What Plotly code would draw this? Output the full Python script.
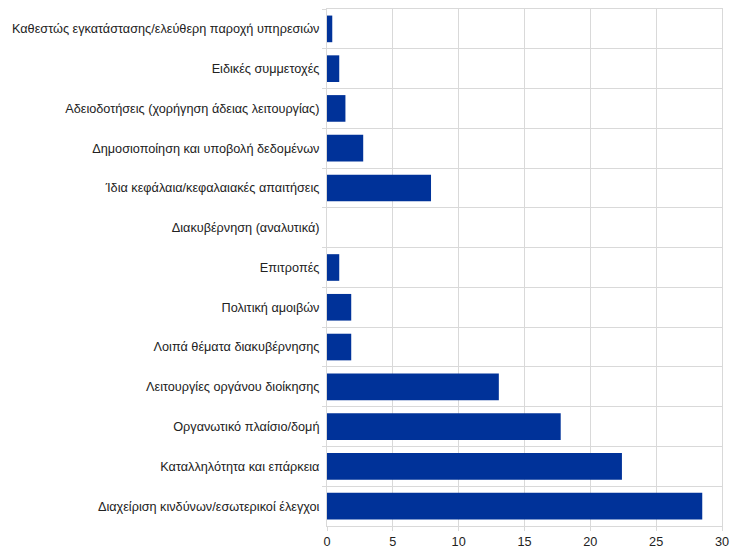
import plotly.graph_objects as go

categories = [
    "Καθεστώς εγκατάστασης/ελεύθερη παροχή υπηρεσιών",
    "Ειδικές συμμετοχές",
    "Αδειοδοτήσεις (χορήγηση άδειας λειτουργίας)",
    "Δημοσιοποίηση και υποβολή δεδομένων",
    "Ίδια κεφάλαια/κεφαλαιακές απαιτήσεις",
    "Διακυβέρνηση (αναλυτικά)",
    "Επιτροπές",
    "Πολιτική αμοιβών",
    "Λοιπά θέματα διακυβέρνησης",
    "Λειτουργίες οργάνου διοίκησης",
    "Οργανωτικό πλαίσιο/δομή",
    "Καταλληλότητα και επάρκεια",
    "Διαχείριση κινδύνων/εσωτερικοί έλεγχοι",
]
values = [0.4, 0.93, 1.4, 2.75, 7.9, 0, 0.93, 1.84, 1.84, 13.05, 17.75, 22.4, 28.5]
x_ticks = [0, 5, 10, 15, 20, 25, 30]

fig = go.Figure(go.Bar(
    y=categories, x=values, orientation="h",
    marker=dict(color="#003299", line=dict(width=0)),
    width=0.67,
))

fig.update_layout(
    width=736, height=544,
    margin=dict(l=319, r=22, t=1, b=26, autoexpand=False),
    paper_bgcolor="white", plot_bgcolor="white",
    font=dict(family="Liberation Sans, Arial, sans-serif", size=12.7, color="#222222"),
    showlegend=False,
)
fig.update_xaxes(
    range=[0, 30], tickvals=x_ticks, showgrid=True, gridcolor="#d9d9d9", gridwidth=1,
    zeroline=False, showline=True, linecolor="#d9d9d9", mirror=True,
    ticks="outside", ticklen=4, tickcolor="#d9d9d9", automargin=False,
)
fig.update_yaxes(
    autorange="reversed", type="category", tickson="boundaries",
    showgrid=True, gridcolor="#d9d9d9", gridwidth=1,
    showline=True, linecolor="#d9d9d9", mirror=True,
    ticks="outside", ticklen=4, tickcolor="#d9d9d9", automargin=False,
    ticklabelstandoff=4,
)

fig.write_html("out.html")
